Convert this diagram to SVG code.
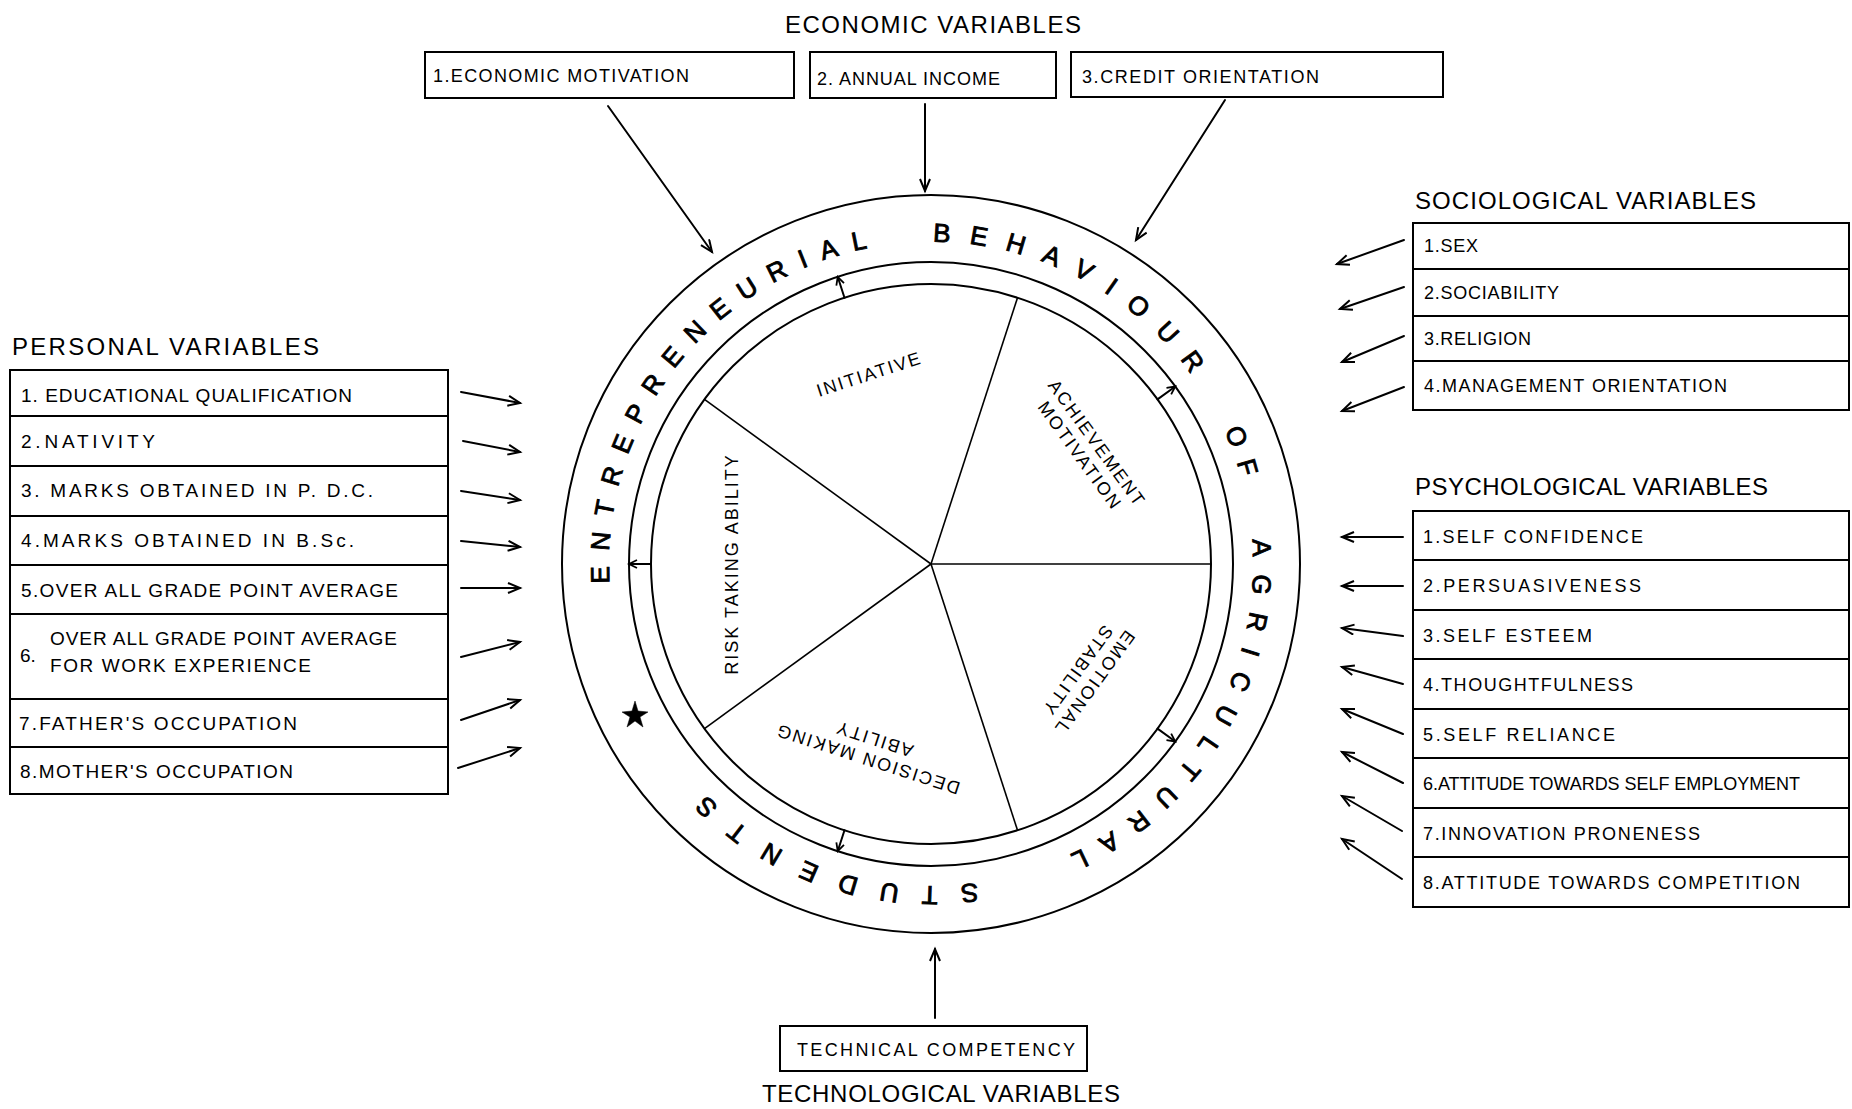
<svg xmlns="http://www.w3.org/2000/svg" width="1852" height="1109" viewBox="0 0 1852 1109">
  <style>
    .ln { stroke: #000; stroke-width: 2; fill: none; stroke-linecap: round; }
    .sp { stroke: #000; stroke-width: 1.6; fill: none; }
    .box { fill: none; stroke: #000; stroke-width: 2; }
    .t { font-family: "Liberation Sans", Arial, sans-serif; fill: #000; }
    .ttl { font-size: 24px; }
    .lbl { font-size: 18px; }
    .plbl { font-size: 19px; }
    .sec { font-size: 18px; letter-spacing: 2px; text-anchor: middle; }
    .ring { font-size: 26px; stroke: #000; stroke-width: 0.9; }
  </style>
  <defs>
    <marker id="ah" markerUnits="userSpaceOnUse" markerWidth="16" markerHeight="14" refX="13" refY="6" orient="auto">
      <path d="M1,1 L13,6 L1,11" fill="none" stroke="#000" stroke-width="2"/>
    </marker>
    <marker id="ahs" markerUnits="userSpaceOnUse" markerWidth="12" markerHeight="12" refX="9" refY="5" orient="auto">
      <path d="M1,1 L9,5 L1,9" fill="none" stroke="#000" stroke-width="1.8"/>
    </marker>
    <!-- clockwise circle for the ring lettering, starting at 160 degrees -->
    <path id="ringPath" d="M628.4,674.1 A322,322 0 1 1 1233.6,453.9 A322,322 0 1 1 628.4,674.1"/>
  </defs>

  <!-- central wheel -->
  <g id="wheel">
    <circle class="box" cx="931" cy="564" r="369"/>
    <circle class="box" cx="931" cy="564" r="302"/>
    <circle class="box" cx="931" cy="564" r="280"/>
    <g class="sp">
      <line x1="931" y1="564" x2="1211" y2="564"/>
      <line x1="931" y1="564" x2="1017.5" y2="830.3"/>
      <line x1="931" y1="564" x2="704.5" y2="728.6"/>
      <line x1="931" y1="564" x2="704.5" y2="399.4"/>
      <line x1="931" y1="564" x2="1017.5" y2="297.7"/>
    </g>
    <!-- ring lettering -->
    <text class="t ring" letter-spacing="14.8"><textPath href="#ringPath" startOffset="93">ENTREPRENEURIAL</textPath></text>
    <text class="t ring" letter-spacing="18.7"><textPath href="#ringPath" startOffset="620">BEHAVIOUR</textPath></text>
    <text class="t ring" letter-spacing="14"><textPath href="#ringPath" startOffset="986">OF</textPath></text>
    <text class="t ring" letter-spacing="17.1"><textPath href="#ringPath" startOffset="1099">AGRICULTURAL</textPath></text>
    <text class="t ring" letter-spacing="22.1"><textPath href="#ringPath" startOffset="1583">STUDENTS</textPath></text>
    <!-- small star mark on the ring -->
    <path d="M635,701 L638,711 L648,712 L640,717 L643,727 L635,721 L627,727 L630,717 L622,712 L632,711 Z" fill="#000" stroke="#000" stroke-width="0.5" stroke-linejoin="miter"/>
  </g>

  <!-- sector labels -->
  <g id="sector-initiative">
    <text class="t sec" x="931" y="370.5" transform="rotate(-18 931 564)">INITIATIVE</text>
  </g>
  <g id="sector-achievement">
    <text class="t sec" x="931" y="365" letter-spacing="1.5" transform="rotate(54 931 564)">ACHIEVEMENT</text>
    <text class="t sec" x="931" y="386" letter-spacing="1.5" transform="rotate(54 931 564)">MOTIVATION</text>
  </g>
  <g id="sector-emotional">
    <text class="t sec" x="931" y="368" transform="rotate(126 931 564)">EMOTIONAL</text>
    <text class="t sec" x="931" y="389" transform="rotate(126 931 564)">STABILITY</text>
  </g>
  <g id="sector-decision">
    <text class="t sec" x="931" y="365" transform="rotate(198 931 564)">DECISION MAKING</text>
    <text class="t sec" x="931" y="386" transform="rotate(198 931 564)">ABILITY</text>
  </g>
  <g id="sector-risk">
    <text class="t sec" x="931" y="370.5" letter-spacing="2.4" transform="rotate(-90 931 564)">RISK TAKING ABILITY</text>
  </g>

  <!-- economic variables -->
  <g id="economic">
    <text class="t ttl" x="785" y="33" textLength="296" lengthAdjust="spacing">ECONOMIC VARIABLES</text>
    <g id="eco-1">
      <rect class="box" x="425" y="52" width="369" height="46"/>
      <text class="t lbl" x="433" y="82" textLength="256" lengthAdjust="spacing">1.ECONOMIC MOTIVATION</text>
    </g>
    <g id="eco-2">
      <rect class="box" x="810" y="52" width="246" height="46"/>
      <text class="t lbl" x="817" y="85" textLength="183" lengthAdjust="spacing">2. ANNUAL INCOME</text>
    </g>
    <g id="eco-3">
      <rect class="box" x="1071" y="52" width="372" height="45"/>
      <text class="t lbl" x="1082" y="83" textLength="237" lengthAdjust="spacing">3.CREDIT ORIENTATION</text>
    </g>
  </g>

  <!-- sociological variables -->
  <g id="sociological">
    <text class="t ttl" x="1415" y="209" textLength="341" lengthAdjust="spacing">SOCIOLOGICAL VARIABLES</text>
    <rect class="box" x="1413" y="223" width="436" height="187"/>
    <g class="box">
      <line x1="1413" y1="269" x2="1849" y2="269"/>
      <line x1="1413" y1="316" x2="1849" y2="316"/>
      <line x1="1413" y1="361" x2="1849" y2="361"/>
    </g>
    <g id="soc-1"><text class="t lbl" x="1424" y="252" textLength="54" lengthAdjust="spacing">1.SEX</text></g>
    <g id="soc-2"><text class="t lbl" x="1424" y="299" textLength="135" lengthAdjust="spacing">2.SOCIABILITY</text></g>
    <g id="soc-3"><text class="t lbl" x="1424" y="345" textLength="107" lengthAdjust="spacing">3.RELIGION</text></g>
    <g id="soc-4"><text class="t lbl" x="1424" y="392" textLength="303" lengthAdjust="spacing">4.MANAGEMENT ORIENTATION</text></g>
  </g>

  <!-- psychological variables -->
  <g id="psychological">
    <text class="t ttl" x="1415" y="495" textLength="353" lengthAdjust="spacing">PSYCHOLOGICAL VARIABLES</text>
    <rect class="box" x="1413" y="511" width="436" height="396"/>
    <g class="box">
      <line x1="1413" y1="560" x2="1849" y2="560"/>
      <line x1="1413" y1="610" x2="1849" y2="610"/>
      <line x1="1413" y1="659" x2="1849" y2="659"/>
      <line x1="1413" y1="709" x2="1849" y2="709"/>
      <line x1="1413" y1="758" x2="1849" y2="758"/>
      <line x1="1413" y1="808" x2="1849" y2="808"/>
      <line x1="1413" y1="857" x2="1849" y2="857"/>
    </g>
    <g id="psy-1"><text class="t lbl" x="1423" y="543" textLength="220" lengthAdjust="spacing">1.SELF CONFIDENCE</text></g>
    <g id="psy-2"><text class="t lbl" x="1423" y="592" textLength="218" lengthAdjust="spacing">2.PERSUASIVENESS</text></g>
    <g id="psy-3"><text class="t lbl" x="1423" y="642" textLength="169" lengthAdjust="spacing">3.SELF ESTEEM</text></g>
    <g id="psy-4"><text class="t lbl" x="1423" y="691" textLength="210" lengthAdjust="spacing">4.THOUGHTFULNESS</text></g>
    <g id="psy-5"><text class="t lbl" x="1423" y="741" textLength="192" lengthAdjust="spacing">5.SELF RELIANCE</text></g>
    <g id="psy-6"><text class="t lbl" x="1423" y="790" textLength="377" lengthAdjust="spacing">6.ATTITUDE TOWARDS SELF EMPLOYMENT</text></g>
    <g id="psy-7"><text class="t lbl" x="1423" y="840" textLength="277" lengthAdjust="spacing">7.INNOVATION PRONENESS</text></g>
    <g id="psy-8"><text class="t lbl" x="1423" y="889" textLength="377" lengthAdjust="spacing">8.ATTITUDE TOWARDS COMPETITION</text></g>
  </g>

  <!-- personal variables -->
  <g id="personal">
    <text class="t ttl" x="12" y="355" textLength="307" lengthAdjust="spacing">PERSONAL VARIABLES</text>
    <rect class="box" x="10" y="370" width="438" height="424"/>
    <g class="box">
      <line x1="10" y1="416" x2="448" y2="416"/>
      <line x1="10" y1="466" x2="448" y2="466"/>
      <line x1="10" y1="516" x2="448" y2="516"/>
      <line x1="10" y1="565" x2="448" y2="565"/>
      <line x1="10" y1="614" x2="448" y2="614"/>
      <line x1="10" y1="699" x2="448" y2="699"/>
      <line x1="10" y1="747" x2="448" y2="747"/>
    </g>
    <g id="per-1"><text class="t plbl" x="21" y="402" textLength="331" lengthAdjust="spacing">1. EDUCATIONAL QUALIFICATION</text></g>
    <g id="per-2"><text class="t plbl" x="21" y="448" textLength="134" lengthAdjust="spacing">2.NATIVITY</text></g>
    <g id="per-3"><text class="t plbl" x="21" y="497" textLength="352" lengthAdjust="spacing">3. MARKS OBTAINED IN P. D.C.</text></g>
    <g id="per-4"><text class="t plbl" x="21" y="547" textLength="333" lengthAdjust="spacing">4.MARKS OBTAINED IN B.Sc.</text></g>
    <g id="per-5"><text class="t plbl" x="21" y="597" textLength="377" lengthAdjust="spacing">5.OVER ALL GRADE POINT AVERAGE</text></g>
    <g id="per-6">
      <text class="t plbl" x="20" y="662">6.</text>
      <text class="t plbl" x="50" y="645" textLength="347" lengthAdjust="spacing">OVER ALL GRADE POINT AVERAGE</text>
      <text class="t plbl" x="50" y="672" textLength="261" lengthAdjust="spacing">FOR WORK EXPERIENCE</text>
    </g>
    <g id="per-7"><text class="t plbl" x="19" y="730" textLength="278" lengthAdjust="spacing">7.FATHER'S OCCUPATION</text></g>
    <g id="per-8"><text class="t plbl" x="20" y="778" textLength="273" lengthAdjust="spacing">8.MOTHER'S OCCUPATION</text></g>
  </g>

  <!-- technological variables -->
  <g id="technological">
    <rect class="box" x="780" y="1026" width="307" height="45"/>
    <text class="t lbl" x="797" y="1056" textLength="278" lengthAdjust="spacing">TECHNICAL COMPETENCY</text>
    <text class="t ttl" x="762" y="1102" textLength="358" lengthAdjust="spacing">TECHNOLOGICAL VARIABLES</text>
  </g>

  <!-- connectors -->
  <g id="connectors" class="ln" marker-end="url(#ah)">
    <line x1="608" y1="106" x2="712" y2="252"/>
    <line x1="925" y1="104" x2="925" y2="191"/>
    <line x1="1225" y1="100" x2="1136" y2="240"/>

    <line x1="461" y1="392" x2="520" y2="403"/>
    <line x1="463" y1="441" x2="520" y2="452"/>
    <line x1="461" y1="491" x2="520" y2="500"/>
    <line x1="461" y1="541" x2="520" y2="547"/>
    <line x1="461" y1="588" x2="520" y2="588"/>
    <line x1="461" y1="657" x2="520" y2="642"/>
    <line x1="461" y1="720" x2="520" y2="700"/>
    <line x1="458" y1="768" x2="520" y2="748"/>

    <line x1="1404" y1="240" x2="1337" y2="264"/>
    <line x1="1404" y1="287" x2="1340" y2="309"/>
    <line x1="1404" y1="336" x2="1342" y2="362"/>
    <line x1="1404" y1="387" x2="1342" y2="411"/>

    <line x1="1403" y1="537" x2="1342" y2="537"/>
    <line x1="1403" y1="586" x2="1342" y2="586"/>
    <line x1="1403" y1="636" x2="1342" y2="628"/>
    <line x1="1403" y1="684" x2="1342" y2="667"/>
    <line x1="1403" y1="734" x2="1342" y2="709"/>
    <line x1="1403" y1="783" x2="1342" y2="752"/>
    <line x1="1402" y1="831" x2="1342" y2="796"/>
    <line x1="1402" y1="879" x2="1342" y2="839"/>

    <line x1="935" y1="1018" x2="935" y2="949"/>

    <!-- sector-to-ring arrows -->
    <g marker-end="url(#ahs)">
      <line x1="1157.5" y1="728.6" x2="1175.3" y2="741.5" marker-end="url(#ahs)"/>
      <line x1="844.5" y1="830.3" x2="837.7" y2="851.2" marker-end="url(#ahs)"/>
      <line x1="651" y1="564" x2="629" y2="564" marker-end="url(#ahs)"/>
      <line x1="844.5" y1="297.7" x2="837.7" y2="276.8" marker-end="url(#ahs)"/>
      <line x1="1157.5" y1="399.4" x2="1175.3" y2="386.5" marker-end="url(#ahs)"/>
    </g>
  </g>
</svg>
